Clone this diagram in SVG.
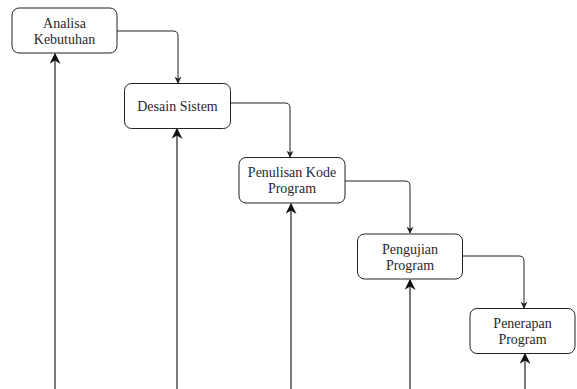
<svg xmlns="http://www.w3.org/2000/svg" width="577" height="389" viewBox="0 0 577 389">
<style>
.box{fill:#fff;stroke:#222;stroke-width:1}
.t{font-family:'Liberation Serif','Times New Roman',Tinos,'DejaVu Serif',serif;font-size:14px;fill:#2a2a2a;text-anchor:middle}
.c{fill:none;stroke:#222;stroke-width:1}
.u{fill:none;stroke:#333;stroke-width:1.3}
</style>
<defs>
<marker id="sm" viewBox="0 0 10 10" refX="9" refY="5" markerWidth="7" markerHeight="7" markerUnits="userSpaceOnUse" orient="auto"><path d="M0,0 L10,5 L0,10 L3,5 Z" fill="#222"/></marker>
<marker id="lg" viewBox="0 0 10 10" refX="9" refY="5" markerWidth="11" markerHeight="11" markerUnits="userSpaceOnUse" orient="auto"><path d="M0,0 L10,5 L0,10 L3,5 Z" fill="#111"/></marker>
</defs>
<rect width="577" height="389" fill="#fff"/>
<g id="connectors">
<path class="c" d="M117,31 H173 Q178,31 178,36 V83" marker-end="url(#sm)"/>
<path class="c" d="M230,103 H285 Q290,103 290,108 V157" marker-end="url(#sm)"/>
<path class="c" d="M345,181 H405 Q410,181 410,186 V233" marker-end="url(#sm)"/>
<path class="c" d="M462,256 H519 Q524,256 524,261 V308" marker-end="url(#sm)"/>
<path class="u" d="M55,389 V54" marker-end="url(#lg)"/>
<path class="u" d="M177,389 V129" marker-end="url(#lg)"/>
<path class="u" d="M291,389 V204" marker-end="url(#lg)"/>
<path class="u" d="M410,389 V280" marker-end="url(#lg)"/>
<path class="u" d="M525,389 V354" marker-end="url(#lg)"/>
</g>
<g id="analisa">
<rect class="box" x="12" y="8" width="105" height="45" rx="7"/>
<text class="t" x="64.5" y="28">Analisa</text>
<text class="t" x="64.5" y="44">Kebutuhan</text>
</g>
<g id="desain">
<rect class="box" x="124.5" y="83.5" width="106" height="45" rx="7"/>
<text class="t" x="177.5" y="111">Desain Sistem</text>
</g>
<g id="penulisan">
<rect class="box" x="239" y="157.5" width="106" height="45.5" rx="7"/>
<text class="t" x="292" y="177">Penulisan Kode</text>
<text class="t" x="292" y="193">Program</text>
</g>
<g id="pengujian">
<rect class="box" x="357.5" y="234" width="105" height="45" rx="7"/>
<text class="t" x="410" y="254">Pengujian</text>
<text class="t" x="410" y="270">Program</text>
</g>
<g id="penerapan">
<rect class="box" x="470" y="308.5" width="105" height="45" rx="7"/>
<text class="t" x="522.5" y="328">Penerapan</text>
<text class="t" x="522.5" y="344">Program</text>
</g>
</svg>
